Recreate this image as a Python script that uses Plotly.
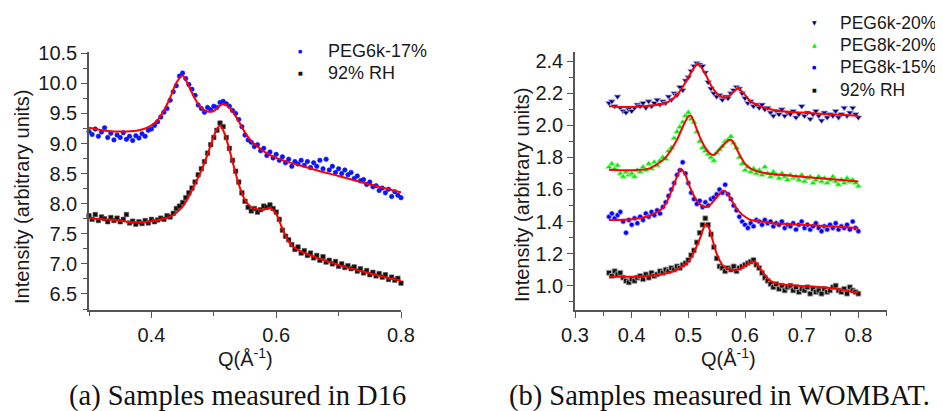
import plotly.graph_objects as go

# ---------------- data: panel (a) D16 ----------------
Q_A_START, Q_A_STEP = 0.300, 0.005
peg6k17 = [9.20, 9.15, 9.24, 9.12, 9.19, 9.26, 9.10, 9.17, 9.06, 9.14,
           9.10, 9.18, 9.07, 9.12, 9.05, 9.13, 9.09, 9.16, 9.12, 9.22,
           9.24, 9.30, 9.36, 9.44, 9.52, 9.58, 9.72, 9.86, 9.96, 10.12,
           10.17, 10.08, 9.98, 9.90, 9.80, 9.64, 9.58, 9.52, 9.60, 9.56,
           9.62, 9.60, 9.68, 9.70, 9.66, 9.62, 9.55, 9.50, 9.40, 9.28,
           9.14, 9.06, 9.02, 8.95, 8.98, 8.88, 8.92, 8.80, 8.86, 8.76,
           8.82, 8.72, 8.78, 8.68, 8.74, 8.62, 8.70, 8.66, 8.72, 8.64,
           8.70, 8.60, 8.68, 8.62, 8.72, 8.58, 8.74, 8.56, 8.62, 8.52,
           8.58, 8.50, 8.56, 8.48, 8.52, 8.42, 8.46, 8.38, 8.40, 8.32,
           8.36, 8.28, 8.30, 8.22, 8.26, 8.18, 8.24, 8.12, 8.20, 8.14,
           8.10]
rh92_a = [7.80, 7.74, 7.82, 7.72, 7.78, 7.75, 7.70, 7.77, 7.72, 7.76,
          7.70, 7.74, 7.82, 7.68, 7.71, 7.66, 7.70, 7.67, 7.72, 7.68,
          7.74, 7.70, 7.73, 7.76, 7.74, 7.80, 7.78, 7.84, 7.92, 7.96,
          8.02, 8.10, 8.18, 8.26, 8.36, 8.48, 8.58, 8.70, 8.84, 8.98,
          9.10, 9.22, 9.34, 9.28, 9.10, 8.92, 8.72, 8.54, 8.36, 8.18,
          8.04, 7.94, 7.88, 7.92, 7.86, 7.90, 7.96, 7.94, 7.98, 7.92,
          7.86, 7.74, 7.56, 7.46, 7.40, 7.32, 7.24, 7.28, 7.18, 7.22,
          7.14, 7.18, 7.10, 7.14, 7.06, 7.12, 7.03, 7.06, 7.00, 7.04,
          6.96, 7.00, 6.94, 6.97, 6.92, 6.95, 6.88, 6.92, 6.85, 6.89,
          6.82, 6.86, 6.80, 6.84, 6.78, 6.82, 6.74, 6.78, 6.73, 6.76,
          6.68]

fit_a1_q = [0.300, 0.320, 0.340, 0.360, 0.380, 0.390, 0.400, 0.410, 0.420, 0.430,
            0.440, 0.450, 0.460, 0.470, 0.480, 0.490, 0.500, 0.510, 0.515, 0.520,
            0.530, 0.540, 0.550, 0.560, 0.570, 0.580, 0.600, 0.620, 0.640, 0.670,
            0.700, 0.750, 0.800]
fit_a1_v = [9.26, 9.22, 9.20, 9.20, 9.22, 9.25, 9.30, 9.39, 9.55, 9.76,
            10.01, 10.13, 9.95, 9.74, 9.59, 9.53, 9.54, 9.63, 9.65, 9.64,
            9.53, 9.37, 9.18, 9.04, 8.95, 8.87, 8.76, 8.69, 8.63, 8.54,
            8.46, 8.32, 8.19]
fit_a2_q = [0.300, 0.320, 0.340, 0.360, 0.380, 0.400, 0.420, 0.430, 0.440, 0.450,
            0.460, 0.470, 0.480, 0.490, 0.500, 0.505, 0.510, 0.515, 0.520, 0.530,
            0.540, 0.550, 0.560, 0.570, 0.580, 0.590, 0.600, 0.610, 0.620, 0.630,
            0.650, 0.680, 0.710, 0.740, 0.770, 0.800]
fit_a2_v = [7.76, 7.74, 7.73, 7.70, 7.69, 7.71, 7.75, 7.78, 7.85, 7.95,
            8.12, 8.33, 8.55, 8.82, 9.12, 9.24, 9.30, 9.22, 9.08, 8.70,
            8.32, 8.06, 7.94, 7.91, 7.90, 7.93, 7.83, 7.58, 7.37, 7.26,
            7.16, 7.05, 6.95, 6.87, 6.79, 6.72]

# ---------------- data: panel (b) WOMBAT ----------------
Q_B_START, Q_B_STEP = 0.360, 0.005
peg6k20 = [2.14, 2.15, 2.12, 2.18, 2.11, 2.09, 2.08, 2.10, 2.09, 2.11,
           2.13, 2.12, 2.14, 2.11, 2.15, 2.12, 2.14, 2.16, 2.13, 2.15,
           2.14, 2.18, 2.16, 2.20, 2.19, 2.24, 2.22, 2.28, 2.30, 2.34,
           2.37, 2.39, 2.38, 2.37, 2.33, 2.27, 2.23, 2.20, 2.18, 2.19,
           2.16, 2.18, 2.17, 2.20, 2.22, 2.24, 2.23, 2.20, 2.17, 2.14,
           2.15, 2.12, 2.13, 2.11, 2.13, 2.10, 2.11, 2.08, 2.06, 2.09,
           2.07, 2.10, 2.06, 2.08, 2.07, 2.09, 2.05, 2.07, 2.12, 2.06,
           2.08, 2.04, 2.07, 2.09, 2.06, 2.03, 2.08, 2.05, 2.07, 2.06,
           2.09, 2.05, 2.07, 2.11, 2.06, 2.08, 2.11, 2.07, 2.05]
peg8k20 = [1.74, 1.76, 1.73, 1.75, 1.70, 1.68, 1.71, 1.69, 1.70, 1.68,
           1.72, 1.71, 1.74, 1.72, 1.76, 1.73, 1.77, 1.75, 1.78, 1.80,
           1.79, 1.84, 1.86, 1.92, 1.96, 1.99, 2.02, 2.06, 2.08, 2.04,
           2.02, 1.96, 1.90, 1.86, 1.84, 1.82, 1.80, 1.78, 1.83, 1.85,
           1.87, 1.90, 1.91, 1.93, 1.89, 1.86, 1.80, 1.76, 1.72, 1.74,
           1.71, 1.73, 1.70, 1.72, 1.69, 1.74, 1.70, 1.68, 1.71, 1.69,
           1.67, 1.70, 1.68, 1.66, 1.69, 1.67, 1.68, 1.66, 1.69, 1.65,
           1.67, 1.68, 1.64, 1.66, 1.68, 1.65, 1.67, 1.64, 1.66, 1.68,
           1.65, 1.63, 1.66, 1.64, 1.67, 1.65, 1.66, 1.64, 1.62]
peg8k15 = [1.43, 1.45, 1.42, 1.44, 1.46, 1.40, 1.33, 1.41, 1.38, 1.42,
           1.39, 1.43, 1.41, 1.45, 1.43, 1.46, 1.44, 1.47, 1.45, 1.49,
           1.52, 1.56, 1.60, 1.64, 1.69, 1.72, 1.77, 1.70, 1.64, 1.58,
           1.54, 1.51, 1.53, 1.49, 1.52, 1.50, 1.54, 1.55, 1.57, 1.60,
           1.58, 1.63, 1.57, 1.54, 1.50, 1.47, 1.43, 1.40, 1.38, 1.36,
           1.39, 1.37, 1.41, 1.40, 1.38, 1.41, 1.39, 1.40, 1.37, 1.39,
           1.38, 1.40, 1.36, 1.38, 1.37, 1.39, 1.35, 1.38, 1.40, 1.36,
           1.38, 1.35, 1.37, 1.39, 1.36, 1.34, 1.37, 1.35, 1.38, 1.36,
           1.39, 1.35, 1.37, 1.36, 1.38, 1.35, 1.40, 1.36, 1.34]
rh92_b = [1.08, 1.06, 1.09, 1.07, 1.08, 1.05, 1.03, 1.02, 1.04, 1.03,
          1.05, 1.06, 1.04, 1.07, 1.05, 1.08, 1.06, 1.07, 1.09, 1.08,
          1.10, 1.09, 1.11, 1.10, 1.12, 1.11, 1.13, 1.14, 1.16, 1.19,
          1.22, 1.27, 1.33, 1.38, 1.42, 1.38, 1.32, 1.24, 1.17, 1.12,
          1.11, 1.09, 1.11, 1.10, 1.12, 1.09, 1.11, 1.12, 1.13, 1.14,
          1.15, 1.16, 1.13, 1.11, 1.08, 1.05, 1.03, 1.01, 0.99, 1.01,
          0.98, 1.00, 0.97, 0.99, 1.00, 0.97, 0.99, 0.96, 0.98, 0.97,
          0.99, 0.95, 0.98, 0.96, 0.97, 0.95, 0.98, 0.96, 0.97, 0.99,
          1.00, 0.97, 0.96, 0.98, 0.95, 0.99, 0.97, 0.96, 0.95]

fit_b1_q = [0.36, 0.38, 0.40, 0.42, 0.44, 0.46, 0.47, 0.48, 0.49, 0.50, 0.51, 0.515,
            0.52, 0.53, 0.54, 0.55, 0.56, 0.57, 0.58, 0.588, 0.595, 0.60, 0.61, 0.62,
            0.64, 0.66, 0.70, 0.75, 0.80]
fit_b1_v = [2.12, 2.115, 2.115, 2.12, 2.125, 2.14, 2.16, 2.19, 2.24, 2.30, 2.36, 2.38,
            2.375, 2.32, 2.25, 2.20, 2.175, 2.18, 2.21, 2.23, 2.21, 2.19, 2.15, 2.13,
            2.105, 2.09, 2.08, 2.07, 2.06]
fit_b2_q = [0.36, 0.40, 0.43, 0.45, 0.46, 0.47, 0.48, 0.49, 0.50, 0.505, 0.51, 0.52,
            0.53, 0.54, 0.545, 0.55, 0.56, 0.57, 0.575, 0.58, 0.59, 0.60, 0.61, 0.62,
            0.64, 0.67, 0.70, 0.75, 0.80]
fit_b2_v = [1.723, 1.72, 1.73, 1.77, 1.80, 1.85, 1.91, 1.99, 2.055, 2.06, 2.02, 1.93,
            1.86, 1.82, 1.815, 1.83, 1.87, 1.905, 1.91, 1.89, 1.82, 1.76, 1.73, 1.715,
            1.70, 1.69, 1.68, 1.665, 1.65]
fit_b3_q = [0.36, 0.40, 0.43, 0.45, 0.46, 0.47, 0.48, 0.487, 0.495, 0.50, 0.51, 0.52,
            0.53, 0.54, 0.55, 0.56, 0.565, 0.57, 0.58, 0.59, 0.60, 0.61, 0.63, 0.65,
            0.70, 0.75, 0.80]
fit_b3_v = [1.41, 1.415, 1.435, 1.47, 1.51, 1.59, 1.68, 1.73, 1.69, 1.64, 1.56, 1.51,
            1.49, 1.51, 1.55, 1.59, 1.59, 1.57, 1.51, 1.46, 1.43, 1.41, 1.40, 1.39,
            1.38, 1.37, 1.36]
fit_b4_q = [0.36, 0.40, 0.44, 0.47, 0.49, 0.50, 0.51, 0.52, 0.53, 0.535, 0.54, 0.55,
            0.56, 0.57, 0.58, 0.59, 0.60, 0.61, 0.615, 0.62, 0.63, 0.64, 0.65, 0.67,
            0.70, 0.75, 0.80]
fit_b4_v = [1.055, 1.056, 1.065, 1.085, 1.12, 1.15, 1.21, 1.29, 1.38, 1.37, 1.32, 1.20,
            1.13, 1.105, 1.098, 1.105, 1.125, 1.145, 1.15, 1.14, 1.09, 1.045, 1.02, 1.005,
            0.998, 0.985, 0.956]

X_TICKS_A = [0.4, 0.6, 0.8]
Y_TICKS_A = [6.5, 7.0, 7.5, 8.0, 8.5, 9.0, 9.5, 10.0, 10.5]
X_TICKS_B = [0.3, 0.4, 0.5, 0.6, 0.7, 0.8]
Y_TICKS_B = [1.0, 1.2, 1.4, 1.6, 1.8, 2.0, 2.2, 2.4]


def grid(start, step, vals):
    return [round(start + step * i, 4) for i in range(len(vals))]


# page has an 8px body margin: the figure is drawn offset by (8, 8)
OFF = 8
FW, FH = 935, 403


def px(x):
    return (x - OFF) / FW


def py(y):
    return 1 - (y - OFF) / FH


FONT = "Liberation Sans, Arial, sans-serif"
SYMFONT = "DejaVu Sans"
AX = "#555555"
RED = "#ff0000"
TXT = "#1a1a1a"

fig = go.Figure()

# panel (a) scatter
series_a = [
    ("PEG6k-17%", peg6k17, "circle", "#0a14ff", "#0a14ff", 4.5, "●", 5),
    ("92% RH", rh92_a, "square", "#111111", "#555555", 4.5, "■", 5),
]
for name, vals, sym, col, edge, sz, _, _ in series_a:
    fig.add_trace(go.Scatter(x=grid(Q_A_START, Q_A_STEP, vals), y=vals, mode="markers",
                             name=name, xaxis="x", yaxis="y", showlegend=False,
                             marker=dict(symbol=sym, size=sz, color=col,
                                         line=dict(width=0.6, color=edge)),
                             cliponaxis=False))
for fq, fv in [(fit_a1_q, fit_a1_v), (fit_a2_q, fit_a2_v)]:
    fig.add_trace(go.Scatter(x=fq, y=fv, mode="lines", xaxis="x", yaxis="y",
                             line=dict(color=RED, width=2, shape="spline", smoothing=0.8),
                             showlegend=False, cliponaxis=False))

# panel (b) scatter
series_b = [
    ("PEG6k-20%", peg6k20, "triangle-down", "#00007a", "#a8a8e0", 6, "▼", 6),
    ("PEG8k-20%", peg8k20, "triangle-up", "#00ee00", "#a8f0a8", 6, "▲", 6),
    ("PEG8k-15%", peg8k15, "circle", "#0000ff", "#b0b0ff", 5, "●", 5),
    ("92% RH", rh92_b, "square", "#111111", "#aaaaaa", 5, "■", 5),
]
for name, vals, sym, col, halo, sz, _, _ in series_b:
    fig.add_trace(go.Scatter(x=grid(Q_B_START, Q_B_STEP, vals), y=vals, mode="markers",
                             name=name, xaxis="x2", yaxis="y2", showlegend=False,
                             marker=dict(symbol=sym, size=sz, color=col,
                                         line=dict(width=0.8, color=halo)),
                             cliponaxis=False))
for fq, fv in [(fit_b1_q, fit_b1_v), (fit_b2_q, fit_b2_v), (fit_b3_q, fit_b3_v),
               (fit_b4_q, fit_b4_v)]:
    fig.add_trace(go.Scatter(x=fq, y=fv, mode="lines", xaxis="x2", yaxis="y2",
                             line=dict(color=RED, width=2, shape="spline", smoothing=0.8),
                             showlegend=False, cliponaxis=False))


def ax(**kw):
    base = dict(showline=True, linecolor=AX, linewidth=1.5, ticks="outside",
                ticklen=6, tickwidth=1.3, tickcolor=AX, showgrid=False, zeroline=False,
                automargin=False,
                tickfont=dict(family=FONT, size=20, color=TXT), tickmode="array")
    base.update(kw)
    return base


MINOR = dict(ticks="outside", ticklen=4, tickwidth=1.2, tickcolor=AX,
             tickmode="linear", showgrid=False)

fig.update_layout(
    width=FW, height=FH, margin=dict(l=0, r=0, t=0, b=0, autoexpand=False),
    paper_bgcolor="white", plot_bgcolor="white", showlegend=False,
    xaxis=ax(domain=[px(89), px(401)], range=[0.3, 0.8], anchor="y",
             tickvals=X_TICKS_A, ticktext=[f"{v:.1f}" for v in X_TICKS_A],
             minor=dict(MINOR, tick0=0.3, dtick=0.1)),
    yaxis=ax(domain=[py(310), py(52)], range=[6.234, 10.52], anchor="x",
             tickvals=Y_TICKS_A, ticktext=[f"{v:.1f}" for v in Y_TICKS_A],
             minor=dict(MINOR, tick0=6.25, dtick=0.25)),
    xaxis2=ax(domain=[px(575), px(886.7)], range=[0.3, 0.85], anchor="y2",
              tickvals=X_TICKS_B, ticktext=[f"{v:.1f}" for v in X_TICKS_B],
              minor=dict(MINOR, tick0=0.35, dtick=0.1)),
    yaxis2=ax(domain=[py(310), py(52)], range=[0.848, 2.458], anchor="x2",
              tickvals=Y_TICKS_B, ticktext=[f"{v:.1f}" for v in Y_TICKS_B],
              minor=dict(MINOR, tick0=0.9, dtick=0.2)),
)

ann_font = dict(family=FONT, size=20, color=TXT)
cap_font = dict(family="Liberation Serif, Times New Roman, serif", size=28.5, color="#111111")
annotations = [
    dict(text="Intensity (arbitrary units)", x=px(22), y=py(197), textangle=-90,
         font=ann_font),
    dict(text="Intensity (arbitrary units)", x=px(522), y=py(195), textangle=-90,
         font=ann_font),
    dict(text="Q(Å<sup>-1</sup>)", x=px(245), y=py(357), font=ann_font),
    dict(text="Q(Å<sup>-1</sup>)", x=px(728), y=py(357), font=ann_font),
    dict(text="(a) Samples measured in D16", x=px(237), y=py(396), font=cap_font),
    dict(text="(b) Samples measured in WOMBAT.", x=px(719), y=py(396), font=cap_font),
]
for a in annotations:
    a.update(xanchor="center", yanchor="middle")

# legends (symbol + label), one per panel
LEG_FONT = dict(family=FONT, size=17.5, color=TXT)
for i, (name, _, _, col, _, _, glyph, gsz) in enumerate(series_a):
    yy = 50.7 + 22 * i
    annotations.append(dict(text=glyph, x=px(300), y=py(yy), xanchor="center",
                            yanchor="middle", font=dict(family=SYMFONT, size=gsz, color=col)))
    annotations.append(dict(text=name, x=px(326), y=py(yy), xanchor="left",
                            yanchor="middle", font=dict(LEG_FONT, size=18)))
for i, (name, _, _, col, _, _, glyph, gsz) in enumerate(series_b):
    yy = 22.7 + 22.3 * i
    annotations.append(dict(text=glyph, x=px(814), y=py(yy), xanchor="center",
                            yanchor="middle", font=dict(family=SYMFONT, size=gsz, color=col)))
    annotations.append(dict(text=name, x=px(838), y=py(yy), xanchor="left",
                            yanchor="middle", font=LEG_FONT))

for a in annotations:
    a.update(xref="paper", yref="paper", showarrow=False)
fig.update_layout(annotations=annotations)

fig.write_html("out.html")
